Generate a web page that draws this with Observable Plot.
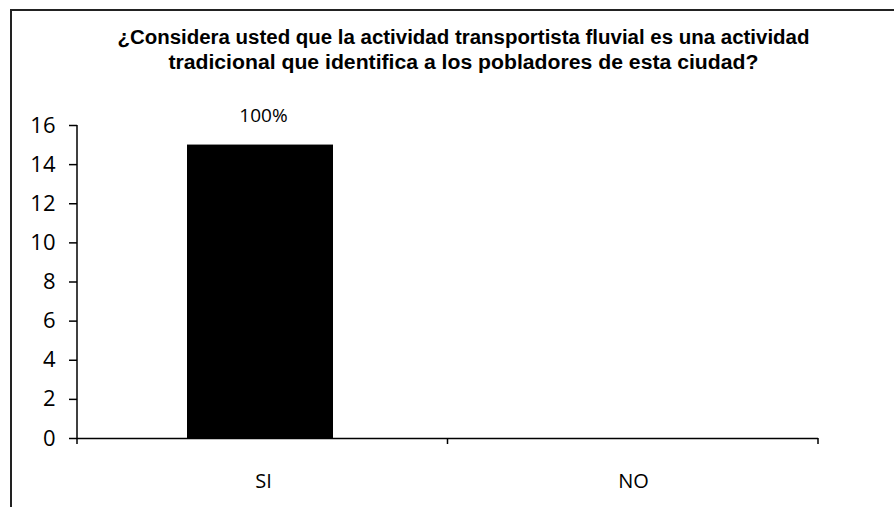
<!DOCTYPE html>
<html><head><meta charset="utf-8">
<script src="https://cdn.jsdelivr.net/npm/d3@7"></script>
<script src="https://cdn.jsdelivr.net/npm/@observablehq/plot@0.6"></script>
<style>
html,body{margin:0;padding:0;background:#fff;width:894px;height:507px;overflow:hidden;}
#frame{position:absolute;left:10px;top:9px;width:900px;height:520px;border-left:2px solid #222;border-top:2px solid #222;}
#title{position:absolute;left:0;top:25px;width:926px;text-align:center;font-family:"Liberation Sans",Arial,sans-serif;font-weight:bold;font-size:20px;line-height:25px;color:#000;}
#title span{display:inline-block;transform-origin:center;white-space:nowrap;}
#chart{position:absolute;left:0;top:100px;}
#chart svg text{font-family:"Open Sans",sans-serif;}
</style></head>
<body>
<div id="frame"></div>
<div id="title"><span id="t1">¿Considera usted que la actividad transportista fluvial es una actividad</span><br><span id="t2">tradicional que identifica a los pobladores de esta ciudad?</span></div>
<div id="chart"></div>
<script>
const categories = ["SI", "NO"];
const values = [15, 0];
const percentLabels = ["100%", ""];
const yTicks = [0, 2, 4, 6, 8, 10, 12, 14, 16];

const data = categories.map((c, i) => ({cat: c, value: values[i], label: percentLabels[i]}));

// category boundary ticks and left axis line
const axisLines = (index, scales, values, dims) => {
  const y = scales.y;
  const left = dims.marginLeft, right = dims.width - dims.marginRight;
  const bw = (right - left) / categories.length;
  const g = d3.create("svg:g").attr("stroke", "#000").attr("stroke-width", 1.5);
  const y0 = y(0);
  g.append("line").attr("x1", left).attr("x2", left).attr("y1", y(16)).attr("y2", y0 + 6);
  for (let i = 1; i <= categories.length; i++) {
    const px = left + i * bw;
    g.append("line").attr("x1", px).attr("x2", px).attr("y1", y0).attr("y2", y0 + 6);
  }
  return g.node();
};

const plot = Plot.plot({
  width: 894,
  height: 407,
  marginLeft: 77,
  marginRight: 76,
  marginTop: 25,
  marginBottom: 69,
  style: {fontFamily: "'Open Sans', sans-serif", fontSize: "22px", color: "#000", background: "transparent"},
  x: {domain: categories, padding: 0, label: null},
  y: {domain: [0, 16], label: null},
  marks: [
    Plot.barY(data, {x: "cat", y: "value", fill: "#000", insetLeft: 109, insetRight: 115}),
    Plot.text(data, {x: "cat", y: "value", text: "label", dy: -29, fontSize: 19, fill: "#000"}),
    Plot.axisY({ticks: yTicks, tickSize: 8, tickPadding: 14, fontSize: 22, stroke: "#000", strokeWidth: 1.5}),
    Plot.axisX({tickSize: 0, tickPadding: 35, fontSize: 20}),
    Plot.ruleY([0], {stroke: "#000", strokeWidth: 1.5}),
    axisLines
  ]
});
document.getElementById("chart").appendChild(plot);

// fit title lines to the reference's width
const fit = (id, w) => { const el = document.getElementById(id); el.style.transform = `scaleX(${w / el.getBoundingClientRect().width})`; };
fit("t1", 692);
fit("t2", 590);
</script>
</body></html>
